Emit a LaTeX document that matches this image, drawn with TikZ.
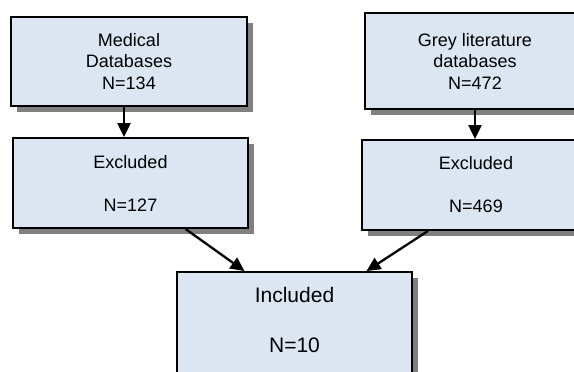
\documentclass[tikz,border=0pt]{standalone}
\usepackage{fontspec}
\setmainfont{Liberation Sans}
\usetikzlibrary{arrows.meta,shadows}

\definecolor{boxblue}{RGB}{220,230,242}
\tikzset{
    flowbox/.style={draw=black, line width=1.9pt, fill=boxblue, align=center,
        font=\fontsize{18}{21.5}\selectfont,
        drop shadow={shadow xshift=5.5pt, shadow yshift=-5.5pt, fill=gray, opacity=1}},
    flowarrow/.style={line width=2.3pt, -{Triangle[length=14pt,width=13pt]}}
}

\begin{document}
\begin{tikzpicture}[x=1pt, y=-1pt]
    \useasboundingbox (0,0) rectangle (574,372);
    \clip (0,0) rectangle (574,372);

    % Sources
    \node[flowbox, minimum width=236pt, minimum height=89pt] (med) at (129,61.5)
        {Medical\\Databases\\N=134};
    \node[flowbox, minimum width=220pt, minimum height=96pt] (grey) at (475,61)
        {Grey literature\\databases\\N=472};

    % Exclusions
    \node[flowbox, minimum width=235pt, minimum height=90pt] (exL) at (130.5,183)
        {Excluded\\[21.5pt]N=127};
    \node[flowbox, minimum width=228pt, minimum height=90pt] (exR) at (476,185)
        {Excluded\\[21.5pt]N=469};

    % Result
    \node[flowbox, minimum width=235pt, minimum height=118pt, text depth=23pt,
        font=\fontsize{21}{25}\selectfont] (inc) at (294.5,331)
        {Included\\[25pt]N=10};

    % Arrows
    \draw[flowarrow] ([xshift=-5pt]med.south) -- ([xshift=-5pt]med.south |- exL.north);
    \draw[flowarrow] (grey.south) -- (grey.south |- exR.north);
    \draw[flowarrow] ([xshift=55pt]exL.south) -- ([xshift=-50pt]inc.north);
    \draw[flowarrow] ([xshift=-48pt]exR.south) -- ([xshift=72pt]inc.north);
\end{tikzpicture}
\end{document}
